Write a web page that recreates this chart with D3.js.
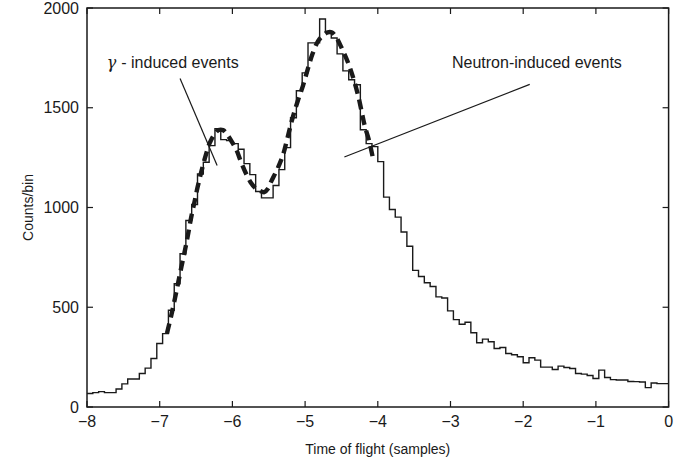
<!DOCTYPE html>
<html>
<head>
<meta charset="utf-8">
<script src="https://cdn.jsdelivr.net/npm/d3@7"></script>
<style>
  html, body { margin: 0; padding: 0; background: #fff; }
  svg { display: block; font-family: "Liberation Sans", Arial, Helvetica, sans-serif; }
</style>
</head>
<body>
<svg id="chart" width="697" height="466"></svg>
<script>
// ---------------- data ----------------
const binStart = -8;
const binWidth = 0.08;
const counts = [
  68, 72, 77, 72, 72, 90, 116, 140, 140, 168,
  195, 243, 318, 368, 485, 618, 768, 935, 1015, 1168,
  1227, 1310, 1395, 1340, 1335, 1320, 1292, 1220, 1165, 1080,
  1048, 1048, 1110, 1190, 1300, 1450, 1585, 1675, 1825, 1825,
  1945, 1880, 1850, 1770, 1685, 1640, 1615, 1390, 1320, 1305,
  1230, 1052, 990, 952, 877, 806, 685, 654, 623, 604,
  552, 546, 482, 438, 415, 425, 372, 322, 340, 327,
  293, 298, 268, 262, 252, 222, 247, 235, 200, 200,
  188, 205, 198, 193, 168, 165, 158, 143, 185, 148,
  137, 135, 135, 128, 127, 125, 97, 120, 117, 117
];
const fitT = [-6.90, -6.84, -6.77, -6.70, -6.65, -6.61, -6.57, -6.52, -6.48, -6.42,
  -6.36, -6.31, -6.25, -6.19, -6.13, -6.08, -6.00, -5.94, -5.88, -5.81,
  -5.75, -5.69, -5.63, -5.56, -5.51, -5.47, -5.37, -5.30, -5.24, -5.17,
  -5.10, -5.03, -4.97, -4.90, -4.82, -4.76, -4.69, -4.63, -4.57, -4.50,
  -4.41, -4.34, -4.27, -4.22, -4.18, -4.12, -4.06];
const fitC = [370, 460, 580, 705, 790, 865, 945, 1030, 1100, 1190,
  1270, 1325, 1365, 1388, 1388, 1370, 1325, 1285, 1227, 1168,
  1127, 1100, 1085, 1077, 1095, 1127, 1202, 1268, 1352, 1452,
  1535, 1610, 1685, 1768, 1835, 1860, 1878, 1877, 1852, 1802,
  1727, 1652, 1560, 1477, 1410, 1335, 1235];
const xTicks = [-8, -7, -6, -5, -4, -3, -2, -1, 0];
const yTicks = [0, 500, 1000, 1500, 2000];
const xLabel = "Time of flight (samples)";
const yLabel = "Counts/bin";
const annotations = [
  { text: "- induced events", greek: "γ", tx: -7.73, ty: 1700, line: [[-6.72, 1647], [-6.21, 1211]] },
  { text: "Neutron-induced events", greek: null, tx: -2.98, ty: 1700, line: [[-4.46, 1253], [-1.91, 1617]] }
];

// ---------------- layout ----------------
const svg = d3.select("#chart");
const pL = 87, pR = 668.6, pT = 8, pB = 407;
const x = d3.scaleLinear().domain([-8, 0]).range([pL, pR]);
const y = d3.scaleLinear().domain([0, 2000]).range([pB, pT]);
const ink = "#1a1a1a";
const tickLen = 6;

// histogram
const histPts = counts.map((c, i) => [binStart + i * binWidth, c]);
histPts.push([binStart + counts.length * binWidth, counts[counts.length - 1]]);
svg.append("path")
  .attr("d", d3.line().x(d => x(d[0])).y(d => y(d[1])).curve(d3.curveStepAfter)(histPts))
  .attr("fill", "none").attr("stroke", ink).attr("stroke-width", 1.4);

// fit curve (dashed)
svg.append("path")
  .attr("d", d3.line().x((d, i) => x(fitT[i])).y(d => y(d)).curve(d3.curveCatmullRom)(fitC))
  .attr("fill", "none").attr("stroke", ink).attr("stroke-width", 4.4)
  .attr("stroke-dasharray", "10,6");

// frame
svg.append("rect")
  .attr("x", pL).attr("y", pT).attr("width", pR - pL).attr("height", pB - pT)
  .attr("fill", "none").attr("stroke", ink).attr("stroke-width", 1.5);

// ticks
const g = svg.append("g").attr("stroke", ink).attr("stroke-width", 1.2);
xTicks.forEach(t => {
  g.append("line").attr("x1", x(t)).attr("x2", x(t)).attr("y1", pB).attr("y2", pB - tickLen);
  g.append("line").attr("x1", x(t)).attr("x2", x(t)).attr("y1", pT).attr("y2", pT + tickLen);
});
yTicks.forEach(t => {
  g.append("line").attr("x1", pL).attr("x2", pL + tickLen).attr("y1", y(t)).attr("y2", y(t));
  g.append("line").attr("x1", pR).attr("x2", pR - tickLen).attr("y1", y(t)).attr("y2", y(t));
});

// tick labels
const fmt = d3.format("d");
svg.append("g").selectAll("text").data(xTicks).join("text")
  .attr("x", d => x(d)).attr("y", pB + 20)
  .attr("text-anchor", "middle").attr("font-size", 16).attr("fill", ink)
  .text(d => fmt(d));
svg.append("g").selectAll("text").data(yTicks).join("text")
  .attr("x", pL - 8).attr("y", d => y(d)).attr("dy", "0.35em")
  .attr("text-anchor", "end").attr("font-size", 16).attr("fill", ink)
  .text(d => fmt(d));

// axis titles
svg.append("text").attr("x", (pL + pR) / 2).attr("y", 454)
  .attr("text-anchor", "middle").attr("font-size", 14).attr("fill", ink).text(xLabel);
svg.append("text").attr("transform", `translate(33,${(pT + pB) / 2}) rotate(-90)`)
  .attr("text-anchor", "middle").attr("font-size", 14).attr("fill", ink).text(yLabel);

// annotations
annotations.forEach(a => {
  const t = svg.append("text").attr("x", x(a.tx)).attr("y", y(a.ty))
    .attr("font-size", 16).attr("fill", ink);
  if (a.greek) {
    t.append("tspan").attr("font-family", "'DejaVu Serif', 'Liberation Serif', serif").attr("font-style", "italic").text(a.greek + " ");
  }
  t.append("tspan").text(a.text);
  svg.append("line")
    .attr("x1", x(a.line[0][0])).attr("y1", y(a.line[0][1]))
    .attr("x2", x(a.line[1][0])).attr("y2", y(a.line[1][1]))
    .attr("stroke", ink).attr("stroke-width", 1.2);
});
</script>
</body>
</html>
